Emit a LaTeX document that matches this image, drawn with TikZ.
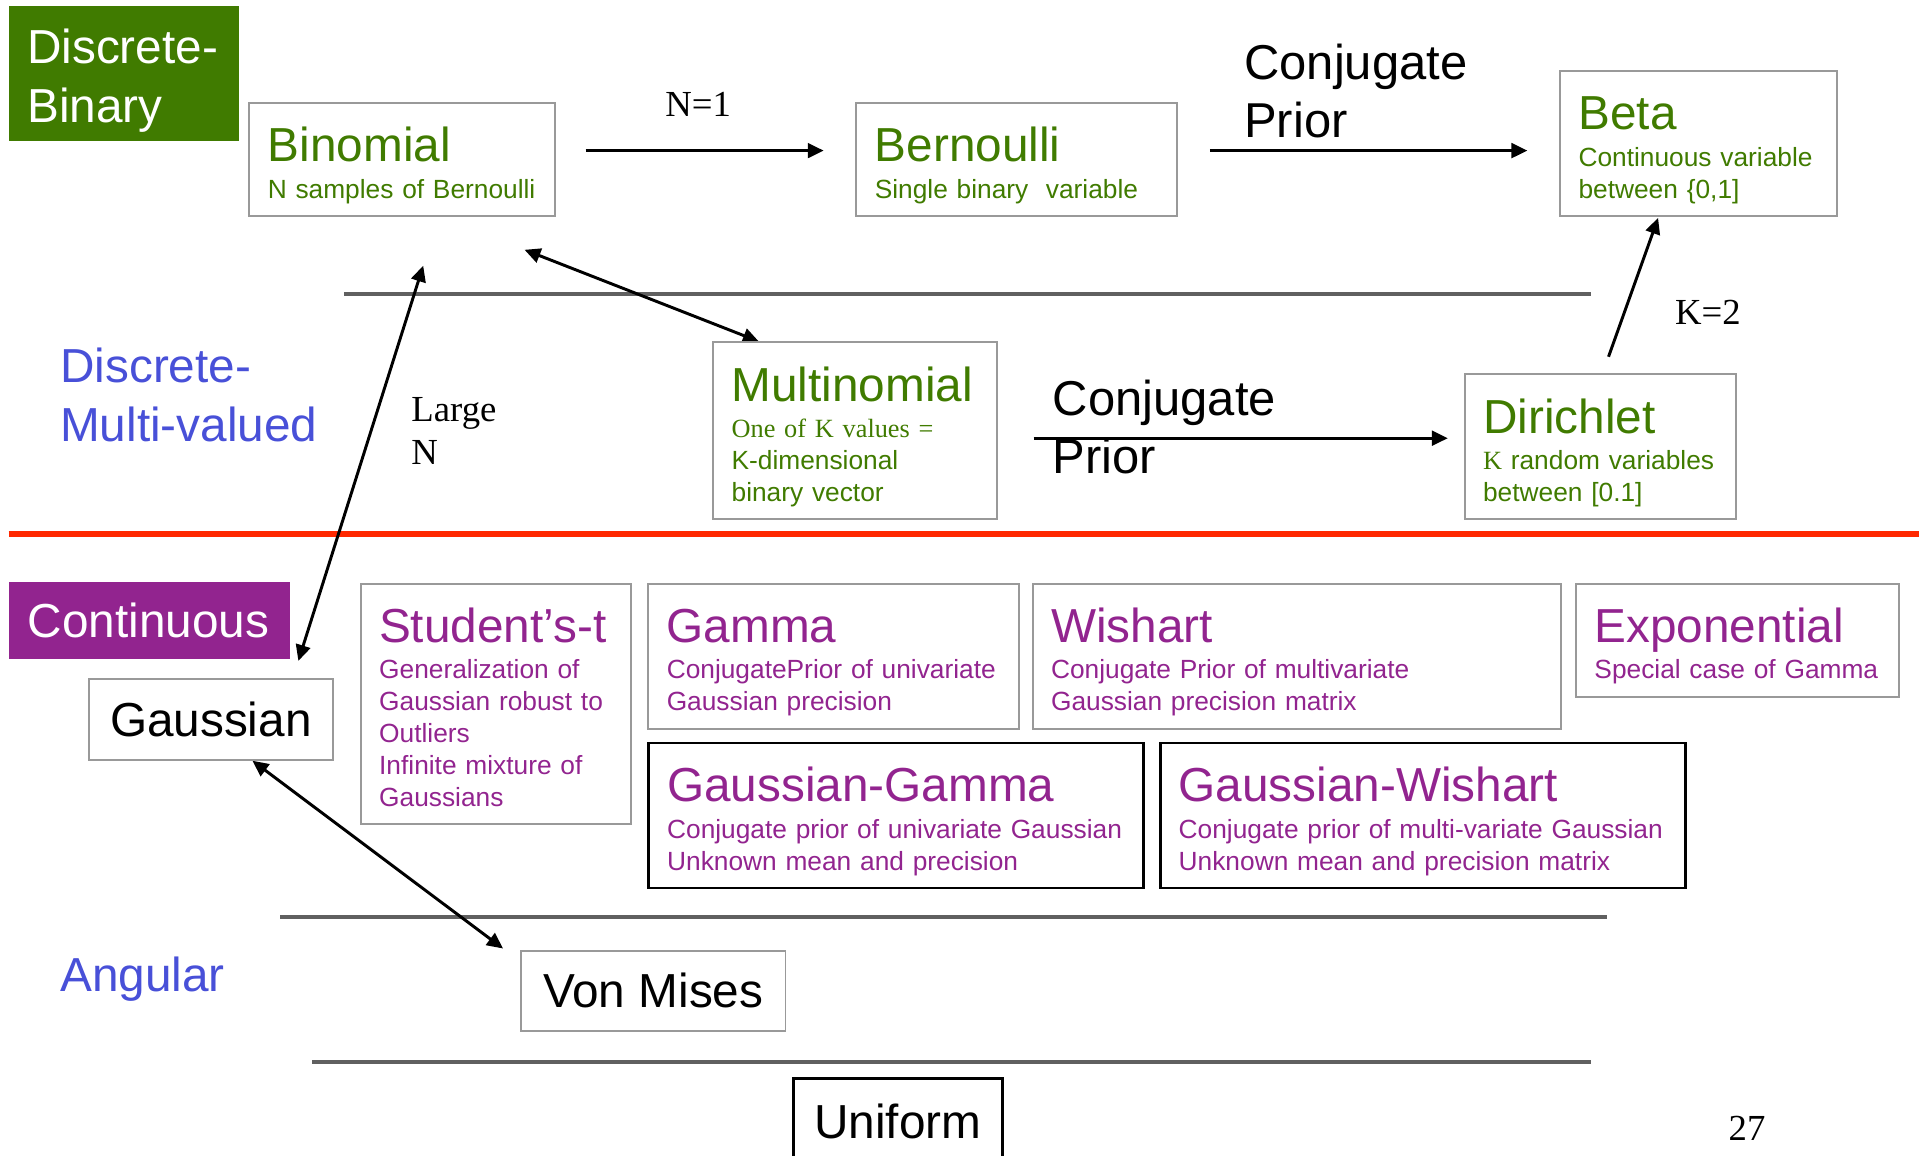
\documentclass[tikz,border=0pt]{standalone}
\usepackage{fontspec}
\setmainfont{Liberation Sans}
\newfontfamily\timesfont{Liberation Serif}
\usepackage[svgnames]{xcolor}
\usepackage{tikz}
\usetikzlibrary{arrows.meta}
\pgfdeclarelayer{edgelayer}
\pgfdeclarelayer{nodelayer}
\pgfsetlayers{edgelayer,nodelayer,main}

\definecolor{bgreen}{RGB}{64,123,0}
\definecolor{bpurple}{RGB}{146,36,143}
\definecolor{bblue}{RGB}{72,80,216}
\definecolor{bgray}{RGB}{153,153,153}
\definecolor{lgray}{RGB}{96,96,96}
\definecolor{lred}{RGB}{255,40,0}

\newcommand{\bigfont}{\fontsize{39}{48}\selectfont}
\newcommand{\smallfont}{\fontsize{21.5}{26}\selectfont}
\newcommand{\topstrut}[1]{\rule{0pt}{#1}}
\newcommand{\botstrut}[1]{\rule[-#1]{0pt}{#1}}
\newcommand{\dtitle}[1]{{\bigfont\topstrut{48pt}#1}\\[4pt]}
\newcommand{\dlast}{\botstrut{14.5pt}}

\tikzset{
	greenbox/.style={draw=bgray, line width=1.6pt, anchor=north west, align=left, inner xsep=15pt, inner ysep=0pt, font=\smallfont, text=bgreen},
	purplebox/.style={greenbox, text=bpurple},
	strongbox/.style={purplebox, draw=black, line width=2.2pt},
	simplebox/.style={draw=bgray, line width=1.6pt, anchor=north west, inner sep=0pt, font=\bigfont},
	catbox/.style={anchor=north west, align=left, inner xsep=15pt, inner ysep=0pt, font=\bigfont, text=white},
	rowlabel/.style={anchor=west, align=left, inner sep=0pt, font=\bigfont, text=bblue},
	notelabel/.style={inner sep=0pt, align=left, font=\timesfont\fontsize{30}{35.5}\selectfont},
	arrowline/.style={line width=2.4pt, -{Triangle[length=13pt,width=12pt]}},
	bothways/.style={line width=2.4pt, {Triangle[length=13pt,width=12pt]}-{Triangle[length=13pt,width=12pt]}},
	sepline/.style={draw=lgray, line width=3.5pt},
	redline/.style={draw=lred, line width=5pt}
}

\begin{document}
\begin{tikzpicture}[x=1pt, y=-1pt]
	\useasboundingbox (0, 0) rectangle (1568, 944);
	\begin{pgfonlayer}{nodelayer}
		\node [style=catbox, fill=bgreen, text width=158pt] (0) at (7, 5) {\topstrut{47pt}Discrete-\\Binary\botstrut{15pt}};
		\node [style=greenbox, text width=220pt] (1) at (203, 83) {\dtitle{Binomial}N samples of Bernoulli\dlast};
		\node [style=greenbox, text width=232pt] (2) at (699, 83) {\dtitle{Bernoulli}Single binary\ \ variable\dlast};
		\node [style=greenbox, text width=196pt] (3) at (1274, 57) {\dtitle{Beta}Continuous variable\\between \{0,1]\dlast};
		\node [style=notelabel, anchor=base] (4) at (570.5, 95.4) {N=1};
		\node [style=rowlabel, text=black, font=\fontsize{40}{47.6}\selectfont] (5) at (1016.5, 74.5) {Conjugate\\Prior};
		\node [style=rowlabel] (6) at (49, 322.8) {Discrete-\\Multi-valued};
		\node [style=notelabel, anchor=west] (7) at (336, 352.3) {Large\\N};
		\node [style=greenbox, text width=202pt] (8) at (582, 279) {\dtitle{Multinomial}{\timesfont One of K values =}\\K-dimensional\\binary vector\dlast};
		\node [style=rowlabel, text=black, font=\fontsize{40}{47.6}\selectfont] (9) at (860, 349.2) {Conjugate\\Prior};
		\node [style=greenbox, text width=192pt] (10) at (1196, 305) {\dtitle{Dirichlet}{\timesfont K} random variables\\between [0.1]\dlast};
		\node [style=notelabel, anchor=base west] (11) at (1368.5, 265.3) {K=2};
		\node [style=catbox, fill=bpurple, minimum width=230pt, minimum height=63.5pt, text width=199pt, inner xsep=15.5pt] (12) at (7, 475) {Continuous};
		\node [style=simplebox, minimum width=199pt, minimum height=66pt] (13) at (72, 554) {Gaussian};
		\node [style=purplebox, text width=191pt] (14) at (294, 476) {\dtitle{Student’s-t}Generalization of\\Gaussian robust to\\Outliers\\Infinite mixture of\\Gaussians\dlast};
		\node [style=purplebox, text width=273pt] (15) at (529, 476) {\dtitle{Gamma}ConjugatePrior of univariate\\Gaussian precision\dlast};
		\node [style=purplebox, text width=402pt] (16) at (843, 476) {\dtitle{Wishart}Conjugate Prior of multivariate\\Gaussian precision matrix\dlast};
		\node [style=purplebox, text width=234pt] (17) at (1287, 476) {\dtitle{Exponential}Special case of Gamma\dlast};
		\node [style=strongbox, text width=374pt] (18) at (529, 606) {\dtitle{Gaussian-Gamma}Conjugate prior of univariate Gaussian\\Unknown mean and precision\dlast};
		\node [style=strongbox, text width=399pt] (19) at (947, 606) {\dtitle{Gaussian-Wishart}Conjugate prior of multi-variate Gaussian\\Unknown mean and precision matrix\dlast};
		\node [style=rowlabel, anchor=base west] (20) at (49, 810) {Angular};
		\node [style=simplebox, minimum width=216pt, minimum height=65.5pt] (21) at (425, 776) {Von Mises};
		\node [style=simplebox, draw=black, line width=2.2pt, minimum width=171pt, minimum height=70pt] (22) at (647, 880) {Uniform};
		\node [style=notelabel, anchor=base] (23) at (1427.5, 932) {27};
	\end{pgfonlayer}
	\begin{pgfonlayer}{edgelayer}
		\draw [style=sepline] (281, 240) -- (1300, 240);
		\draw [style=redline] (7, 436) -- (1568, 436);
		\draw [style=sepline] (229, 749.5) -- (1313, 749.5);
		\draw [style=sepline] (255, 867.5) -- (1300, 867.5);
		\draw [style=arrowline] ([shift={(24,-7)}]1.east) to ([shift={(-26,-7)}]2.west);
		\draw [style=arrowline] ([shift={(26,-7)}]2.east) to ([shift={(-26,6)}]3.west);
		\draw [style=bothways] ([shift={(-26,27)}]1.south east) to ([shift={(38,0)}]8.north west);
		\draw [style=bothways] ([shift={(17,40)}]1.south) to ([shift={(71.5,-14)}]13.north);
		\draw [style=arrowline] ([shift={(29,6)}]8.east) to ([shift={(-13,-7)}]10.west);
		\draw [style=arrowline] ([shift={(6.5,-13.5)}]10.north) to ([shift={(-33,1)}]3.south);
		\draw [style=bothways] ([shift={(34,0)}]13.south) to ([shift={(-14,-1)}]21.north west);
	\end{pgfonlayer}
\end{tikzpicture}
\end{document}
